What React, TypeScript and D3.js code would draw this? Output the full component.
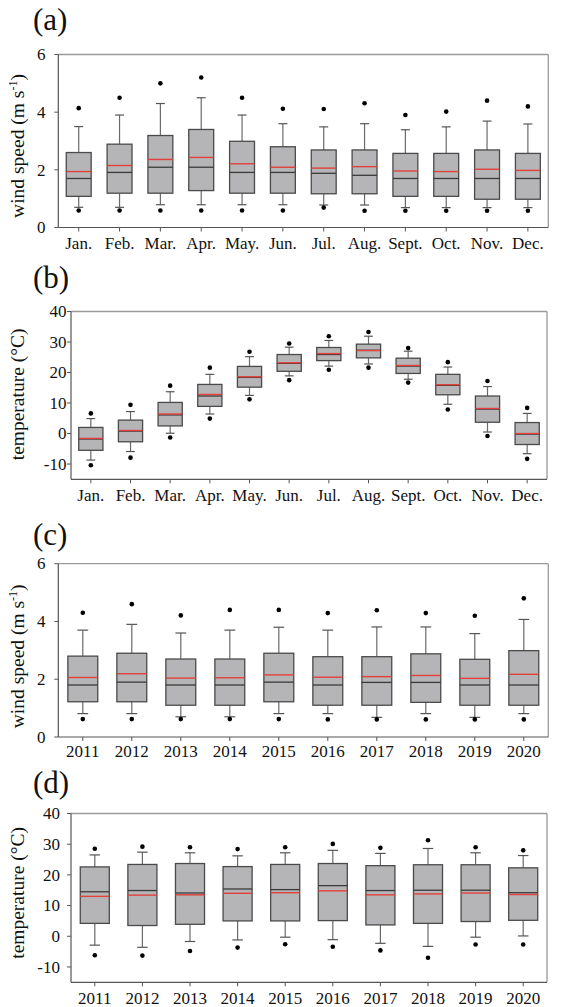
import React from "react";
import * as d3 from "d3";

const months = ["Jan.", "Feb.", "Mar.", "Apr.", "May.", "Jun.", "Jul.", "Aug.", "Sept.", "Oct.", "Nov.", "Dec."];
const years = ["2011", "2012", "2013", "2014", "2015", "2016", "2017", "2018", "2019", "2020"];

const windTicks = [0, 2, 4, 6];
const tempTicks = [-10, 0, 10, 20, 30, 40];

// (a) wind speed by month
const aOutHigh = [4.14, 4.5, 5.0, 5.2, 4.5, 4.12, 4.11, 4.31, 3.9, 4.02, 4.4, 4.2];
const aWhiskHigh = [3.5, 3.9, 4.3, 4.5, 3.9, 3.6, 3.49, 3.6, 3.39, 3.49, 3.69, 3.59];
const aQ3 = [2.6, 2.89, 3.19, 3.4, 2.99, 2.8, 2.69, 2.69, 2.57, 2.57, 2.69, 2.57];
const aMean = [1.94, 2.15, 2.36, 2.43, 2.21, 2.09, 2.06, 2.11, 1.96, 1.94, 2.02, 1.98];
const aMedian = [1.7, 1.91, 2.09, 2.09, 1.91, 1.91, 1.88, 1.81, 1.7, 1.7, 1.7, 1.7];
const aQ1 = [1.08, 1.19, 1.19, 1.28, 1.19, 1.19, 1.17, 1.17, 1.08, 1.08, 0.98, 0.98];
const aWhiskLow = [0.7, 0.7, 0.79, 0.79, 0.79, 0.79, 0.78, 0.78, 0.69, 0.69, 0.69, 0.69];
const aOutLow = [0.59, 0.59, 0.59, 0.59, 0.59, 0.59, 0.69, 0.58, 0.58, 0.58, 0.58, 0.58];

// (b) temperature by month
const bOutHigh = [6.6, 9.4, 15.7, 21.6, 26.8, 29.5, 31.9, 33.3, 28.0, 23.4, 17.2, 8.4];
const bWhiskHigh = [4.9, 7.2, 13.7, 19.4, 25.2, 28.3, 30.5, 31.9, 27.0, 21.8, 15.4, 6.6];
const bQ3 = [2.0, 4.4, 10.2, 16.1, 22.0, 25.9, 28.2, 29.3, 24.7, 19.4, 12.3, 3.6];
const bMean = [-1.6, 1.0, 6.4, 12.8, 18.6, 23.2, 26.2, 27.2, 22.3, 16.0, 8.2, 0.0];
const bMedian = [-1.8, 0.8, 6.1, 12.3, 18.4, 23.0, 25.9, 27.3, 22.1, 15.8, 8.0, -0.2];
const bQ1 = [-5.5, -2.7, 2.5, 8.9, 15.2, 20.4, 23.9, 24.8, 19.7, 12.7, 3.7, -3.6];
const bWhiskLow = [-8.7, -5.9, 0.1, 6.4, 12.5, 18.9, 22.1, 22.8, 17.8, 9.6, 0.5, -6.6];
const bOutLow = [-10.4, -7.9, -1.3, 4.9, 11.2, 17.5, 20.9, 21.6, 16.7, 7.9, -0.8, -8.3];

// (c) wind speed by year
const cOutHigh = [4.3, 4.6, 4.21, 4.4, 4.4, 4.29, 4.39, 4.29, 4.2, 4.8];
const cWhiskHigh = [3.7, 3.9, 3.6, 3.7, 3.8, 3.7, 3.81, 3.81, 3.58, 4.07];
const cQ3 = [2.8, 2.9, 2.7, 2.7, 2.9, 2.78, 2.78, 2.88, 2.69, 2.99];
const cMean = [2.06, 2.19, 2.04, 2.05, 2.15, 2.07, 2.09, 2.13, 2.03, 2.17];
const cMedian = [1.8, 1.9, 1.8, 1.8, 1.9, 1.8, 1.89, 1.89, 1.8, 1.8];
const cQ1 = [1.22, 1.22, 1.1, 1.1, 1.22, 1.1, 1.1, 1.2, 1.1, 1.1];
const cWhiskLow = [0.81, 0.81, 0.7, 0.7, 0.81, 0.81, 0.68, 0.81, 0.68, 0.81];
const cOutLow = [0.62, 0.62, 0.62, 0.62, 0.62, 0.61, 0.61, 0.61, 0.61, 0.61];

// (d) temperature by year
const dOutHigh = [28.5, 29.2, 29.0, 28.4, 29.0, 30.1, 28.8, 31.3, 29.0, 28.0];
const dWhiskHigh = [26.5, 27.4, 27.2, 26.2, 27.2, 28.0, 27.0, 28.6, 27.2, 26.3];
const dQ3 = [22.6, 23.4, 23.7, 22.7, 23.4, 23.7, 23.0, 23.3, 23.3, 22.3];
const dMedian = [14.5, 14.9, 14.1, 15.4, 15.2, 16.5, 14.9, 15.0, 15.0, 14.2];
const dMean = [13.0, 13.4, 13.5, 14.0, 14.2, 14.8, 13.5, 13.8, 14.1, 13.6];
const dQ1 = [4.2, 3.5, 3.9, 5.0, 5.0, 5.1, 3.7, 4.2, 4.8, 5.2];
const dWhiskLow = [-2.9, -3.6, -1.7, -1.2, -0.3, -1.1, -2.3, -3.3, -0.3, 0.1];
const dOutLow = [-6.2, -6.3, -4.8, -3.7, -2.6, -3.4, -4.6, -7.0, -2.7, -2.7];

const FONT = "Liberation Serif";

type PanelProps = {
  letter: string;
  letterY: number;
  cats: string[];
  domain: [number, number];
  ticks: number[];
  left: number;
  right: number;
  top: number;
  bottom: number;
  tickLabelX: number;
  xLabelY: number;
  title: React.ReactNode;
  titleShift: number;
  outHigh: number[];
  whiskHigh: number[];
  q3: number[];
  mean: number[];
  median: number[];
  q1: number[];
  whiskLow: number[];
  outLow: number[];
};

function Panel(p: PanelProps) {
  const x = d3.scaleBand<string>().domain(p.cats).range([p.left, p.right]).padding(0);
  const y = d3.scaleLinear().domain(p.domain).range([p.bottom, p.top]);
  const bw = x.bandwidth();
  const boxW = bw * 0.61;
  const capW = bw * 0.22;
  const titleY = (p.top + p.bottom) / 2 + p.titleShift;
  return (
    <g>
      <text x={33} y={p.letterY} fontFamily={FONT} fontSize={31} fill="#111">
        {p.letter}
      </text>
      {/* frame */}
      <line x1={p.left} x2={p.right} y1={p.top} y2={p.top} stroke="#9a9a9a" strokeWidth={1.3} />
      <line x1={p.right} x2={p.right} y1={p.top} y2={p.bottom} stroke="#9a9a9a" strokeWidth={1.3} />
      <line x1={p.left} x2={p.left} y1={p.top} y2={p.bottom} stroke="#555" strokeWidth={1.2} />
      <line x1={p.left} x2={p.right} y1={p.bottom} y2={p.bottom} stroke="#555" strokeWidth={1.2} />
      {/* y ticks */}
      {p.ticks.map((t) => (
        <g key={"yt" + t}>
          <line x1={p.left - 4} x2={p.left} y1={y(t)} y2={y(t)} stroke="#555" strokeWidth={1} />
          <text x={p.tickLabelX} y={y(t)} dy="0.34em" textAnchor="end" fontFamily={FONT} fontSize={17} fill="#111">
            {String(t)}
          </text>
        </g>
      ))}
      {/* x ticks */}
      {p.cats.map((c) => (
        <g key={"xt" + c}>
          <line x1={x(c)! + bw / 2} x2={x(c)! + bw / 2} y1={p.bottom} y2={p.bottom + 4} stroke="#555" strokeWidth={1} />
          <text x={x(c)! + bw / 2} y={p.xLabelY} textAnchor="middle" fontFamily={FONT} fontSize={17} fill="#111">
            {c}
          </text>
        </g>
      ))}
      {/* y title */}
      <text
        transform={`translate(17,${titleY}) rotate(-90)`}
        textAnchor="middle"
        dy="0.35em"
        fontFamily={FONT}
        fontSize={19.5}
        fill="#111"
      >
        {p.title}
      </text>
      {/* boxes */}
      {p.cats.map((c, i) => {
        const cx = x(c)! + bw / 2;
        return (
          <g key={"b" + c}>
            <line x1={cx} x2={cx} y1={y(p.q3[i])} y2={y(p.whiskHigh[i])} stroke="#6a6a6a" strokeWidth={1.2} />
            <line x1={cx} x2={cx} y1={y(p.q1[i])} y2={y(p.whiskLow[i])} stroke="#6a6a6a" strokeWidth={1.2} />
            <line x1={cx - capW / 2} x2={cx + capW / 2} y1={y(p.whiskHigh[i])} y2={y(p.whiskHigh[i])} stroke="#555" strokeWidth={1.2} />
            <line x1={cx - capW / 2} x2={cx + capW / 2} y1={y(p.whiskLow[i])} y2={y(p.whiskLow[i])} stroke="#555" strokeWidth={1.2} />
            <rect
              x={cx - boxW / 2}
              y={y(p.q3[i])}
              width={boxW}
              height={y(p.q1[i]) - y(p.q3[i])}
              fill="#b5b5b7"
              stroke="#4a4a4a"
              strokeWidth={1.3}
            />
            <line x1={cx - boxW / 2} x2={cx + boxW / 2} y1={y(p.median[i])} y2={y(p.median[i])} stroke="#3a3a3a" strokeWidth={1.3} />
            <line x1={cx - boxW / 2} x2={cx + boxW / 2} y1={y(p.mean[i])} y2={y(p.mean[i])} stroke="#e2403a" strokeWidth={1.4} />
            <circle cx={cx} cy={y(p.outHigh[i])} r={2.3} fill="#000" />
            <circle cx={cx} cy={y(p.outLow[i])} r={2.3} fill="#000" />
          </g>
        );
      })}
    </g>
  );
}

const windTitle = (
  <>
    wind speed (m s
    <tspan fontSize={12} dy={-7}>-1</tspan>
    <tspan dy={7}>)</tspan>
  </>
);
const tempTitle = <>temperature (°C)</>;

export default function App() {
  return (
    <svg width={568} height={1007} style={{ position: "absolute", left: 0, top: 0, background: "#fff" }}>
      <Panel
        letter="(a)"
        letterY={30}
        cats={months}
        domain={[0, 6]}
        ticks={windTicks}
        left={58.3}
        right={548.3}
        top={54.5}
        bottom={227.5}
        tickLabelX={45.5}
        xLabelY={249}
        title={windTitle}
        titleShift={5}
        outHigh={aOutHigh}
        whiskHigh={aWhiskHigh}
        q3={aQ3}
        mean={aMean}
        median={aMedian}
        q1={aQ1}
        whiskLow={aWhiskLow}
        outLow={aOutLow}
      />
      <Panel
        letter="(b)"
        letterY={287.5}
        cats={months}
        domain={[-15, 40]}
        ticks={tempTicks}
        left={71}
        right={547}
        top={311.5}
        bottom={479.3}
        tickLabelX={66.5}
        xLabelY={501}
        title={tempTitle}
        titleShift={-1}
        outHigh={bOutHigh}
        whiskHigh={bWhiskHigh}
        q3={bQ3}
        mean={bMean}
        median={bMedian}
        q1={bQ1}
        whiskLow={bWhiskLow}
        outLow={bOutLow}
      />
      <Panel
        letter="(c)"
        letterY={545}
        cats={years}
        domain={[0, 6]}
        ticks={windTicks}
        left={58.3}
        right={548.3}
        top={563.7}
        bottom={737}
        tickLabelX={45.5}
        xLabelY={756.5}
        title={windTitle}
        titleShift={6}
        outHigh={cOutHigh}
        whiskHigh={cWhiskHigh}
        q3={cQ3}
        mean={cMean}
        median={cMedian}
        q1={cQ1}
        whiskLow={cWhiskLow}
        outLow={cOutLow}
      />
      <Panel
        letter="(d)"
        letterY={792.5}
        cats={years}
        domain={[-15, 40]}
        ticks={tempTicks}
        left={71}
        right={547}
        top={813.5}
        bottom={982.3}
        tickLabelX={60}
        xLabelY={1003.5}
        title={tempTitle}
        titleShift={-5}
        outHigh={dOutHigh}
        whiskHigh={dWhiskHigh}
        q3={dQ3}
        mean={dMean}
        median={dMedian}
        q1={dQ1}
        whiskLow={dWhiskLow}
        outLow={dOutLow}
      />
    </svg>
  );
}
